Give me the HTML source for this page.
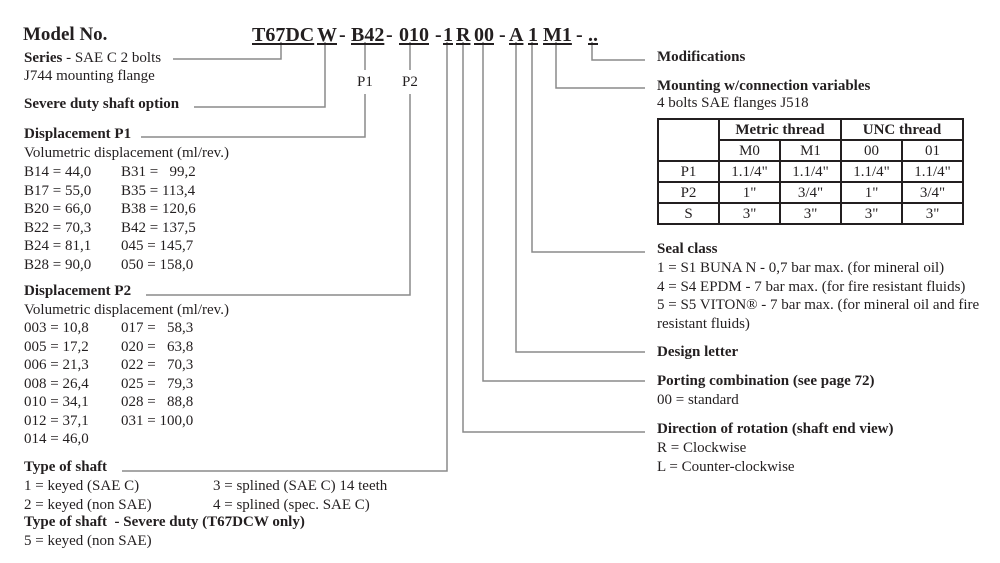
<!DOCTYPE html>
<html><head><meta charset="utf-8"><style>
body{margin:0;width:1000px;height:563px;background:#fff;position:relative;overflow:hidden;font-family:"Liberation Serif",serif;color:#231f20}
.t{position:absolute;font-size:15px;line-height:18.5px;white-space:pre;top:0}
.b{font-weight:bold}
.c{position:absolute;font-size:20px;font-weight:bold;line-height:24px;top:23px;white-space:pre}
.u{text-decoration:underline;text-decoration-thickness:1.5px;text-underline-offset:2px}
svg{position:absolute;left:0;top:0}
table{position:absolute;left:657px;top:118px;border-collapse:collapse;font-size:15px}
td{border:2px solid #231f20;height:19px;padding:0;text-align:center;width:59px;line-height:18px}
</style></head><body>
<svg width="1000" height="563"><g stroke="#8a8a8a" stroke-width="1.5" fill="none">
<polyline points="173,59 281,59 281,42"/>
<polyline points="194,107 325,107 325,42"/>
<line x1="365" y1="42" x2="365" y2="70"/><polyline points="141,137 365,137 365,94"/>
<line x1="410" y1="42" x2="410" y2="70"/><polyline points="146,295 410,295 410,94"/>
<polyline points="122,471 447,471 447,42"/>
<polyline points="645,432 463,432 463,42"/>
<polyline points="645,381 483,381 483,42"/>
<polyline points="645,352 516,352 516,42"/>
<polyline points="645,252 532,252 532,42"/>
<polyline points="645,88 556,88 556,42"/>
<polyline points="645,60 592,60 592,42"/>
</g></svg>
<div class="c" style="left:23px;font-size:19px">Model No.</div>
<div class="c u" style="left:252px">T67DC</div>
<div class="c u" style="left:317px">W</div>
<div class="c" style="left:339px">-</div>
<div class="c u" style="left:351px">B42</div>
<div class="c" style="left:386px">-</div>
<div class="c u" style="left:399px">010</div>
<div class="c" style="left:435px">-</div>
<div class="c u" style="left:443px">1</div>
<div class="c u" style="left:456px">R</div>
<div class="c u" style="left:474px">00</div>
<div class="c" style="left:499px">-</div>
<div class="c u" style="left:509px">A</div>
<div class="c u" style="left:528px">1</div>
<div class="c u" style="left:543px">M1</div>
<div class="c" style="left:576px">-</div>
<div class="c u" style="left:588px">..</div>
<div class="t" style="left:357px;top:73px">P1</div>
<div class="t" style="left:402px;top:73px">P2</div>

<div class="t" style="left:24px;top:49px"><b>Series</b> - SAE C 2 bolts</div>
<div class="t" style="left:24px;top:67px">J744 mounting flange</div>
<div class="t b" style="left:24px;top:95px">Severe duty shaft option</div>
<div class="t b" style="left:24px;top:125px">Displacement P1</div>
<div class="t" style="left:24px;top:144px">Volumetric displacement (ml/rev.)</div>
<div class="t" style="left:24px;top:163px">B14 = 44,0
B17 = 55,0
B20 = 66,0
B22 = 70,3
B24 = 81,1
B28 = 90,0</div>
<div class="t" style="left:121px;top:163px">B31 =   99,2
B35 = 113,4
B38 = 120,6
B42 = 137,5
045 = 145,7
050 = 158,0</div>
<div class="t b" style="left:24px;top:282px">Displacement P2</div>
<div class="t" style="left:24px;top:301px">Volumetric displacement (ml/rev.)</div>
<div class="t" style="left:24px;top:319px">003 = 10,8
005 = 17,2
006 = 21,3
008 = 26,4
010 = 34,1
012 = 37,1
014 = 46,0</div>
<div class="t" style="left:121px;top:319px">017 =   58,3
020 =   63,8
022 =   70,3
025 =   79,3
028 =   88,8
031 = 100,0</div>
<div class="t b" style="left:24px;top:458px">Type of shaft</div>
<div class="t" style="left:24px;top:477px">1 = keyed (SAE C)
2 = keyed (non SAE)</div>
<div class="t" style="left:213px;top:477px">3 = splined (SAE C) 14 teeth
4 = splined (spec. SAE C)</div>
<div class="t b" style="left:24px;top:513px">Type of shaft  - Severe duty (T67DCW only)</div>
<div class="t" style="left:24px;top:532px">5 = keyed (non SAE)</div>

<div class="t b" style="left:657px;top:48px">Modifications</div>
<div class="t b" style="left:657px;top:77px">Mounting w/connection variables</div>
<div class="t" style="left:657px;top:94px">4 bolts SAE flanges J518</div>
<table>
<tr><td rowspan="2"></td><td colspan="2" class="b">Metric thread</td><td colspan="2" class="b">UNC thread</td></tr>
<tr><td>M0</td><td>M1</td><td>00</td><td>01</td></tr>
<tr><td>P1</td><td>1.1/4"</td><td>1.1/4"</td><td>1.1/4"</td><td>1.1/4"</td></tr>
<tr><td>P2</td><td>1"</td><td>3/4"</td><td>1"</td><td>3/4"</td></tr>
<tr><td>S</td><td>3"</td><td>3"</td><td>3"</td><td>3"</td></tr>
</table>
<div class="t b" style="left:657px;top:240px">Seal class</div>
<div class="t" style="left:657px;top:259px">1 = S1 BUNA N - 0,7 bar max. (for mineral oil)
4 = S4 EPDM - 7 bar max. (for fire resistant fluids)
5 = S5 VITON® - 7 bar max. (for mineral oil and fire
resistant fluids)</div>
<div class="t b" style="left:657px;top:343px">Design letter</div>
<div class="t b" style="left:657px;top:372px">Porting combination (see page 72)</div>
<div class="t" style="left:657px;top:391px">00 = standard</div>
<div class="t b" style="left:657px;top:420px">Direction of rotation (shaft end view)</div>
<div class="t" style="left:657px;top:439px">R = Clockwise
L = Counter-clockwise</div>
</body></html>
